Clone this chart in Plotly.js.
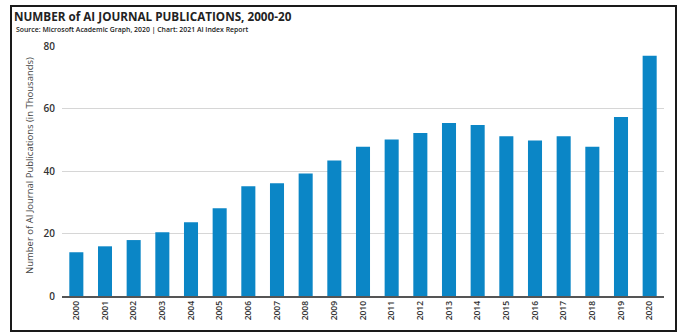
<!DOCTYPE html>
<html>
<head>
<meta charset="utf-8">
<script src="https://cdn.plot.ly/plotly-3.0.1.min.js"></script>
<style>
  html, body { margin: 0; padding: 0; background: #fff; }
  #wrap { position: relative; width: 680px; height: 334px; }
  #chart { position: absolute; left: 0; top: 0; width: 680px; height: 334px; }
  #frame { position: absolute; left: 10px; top: 5px; width: 667px; height: 327px;
           border: 2px solid #1a1a1a; pointer-events: none; box-sizing: border-box; }
</style>
</head>
<body>
<div id="wrap">
  <div id="chart"></div>
  <div id="frame"></div>
</div>
<script>
const years = ["2000","2001","2002","2003","2004","2005","2006","2007","2008","2009","2010",
               "2011","2012","2013","2014","2015","2016","2017","2018","2019","2020"];
const publications = [14.0, 15.9, 17.9, 20.4, 23.6, 28.1, 35.1, 36.1, 39.2, 43.4, 47.8,
                      50.1, 52.2, 55.4, 54.7, 51.1, 49.8, 51.1, 47.8, 57.3, 76.9];
const yTicks = [0, 20, 40, 60, 80];

const titleText = "NUMBER of AI JOURNAL PUBLICATIONS, 2000-20";
const subtitleText = "Source: Microsoft Academic Graph, 2020 | Chart: 2021 AI Index Report";
const yTitleText = "Number of AI Journal Publications (in Thousands)";

const trace = {
  type: "bar",
  x: years,
  y: publications,
  marker: { color: "#0b86c6" },
  hoverinfo: "x+y"
};

const fontFam = "'Open Sans', 'DejaVu Sans', sans-serif";

// plot area: left 62, top 46, width 602, height 250
const L = 62, T = 46, W = 602, H = 250;
const px2x = (px) => (px - L) / W;
const py2y = (py) => 1 - (py - T) / H;

const layout = {
  width: 680,
  height: 334,
  margin: { l: L, r: 680 - L - W, t: T, b: 334 - T - H },
  paper_bgcolor: "#ffffff",
  plot_bgcolor: "#ffffff",
  bargap: 0.51,
  showlegend: false,
  font: { family: fontFam, color: "#333" },
  title: {
    text: titleText,
    x: 14 / 680, xref: "container", xanchor: "left",
    y: 1 - 17 / 334, yref: "container", yanchor: "middle",
    font: { family: fontFam, size: 11.7, color: "#222", weight: 700 }
  },
  annotations: [
    {
      text: subtitleText,
      xref: "paper", yref: "paper",
      x: px2x(14), y: py2y(30),
      xanchor: "left", yanchor: "middle",
      showarrow: false,
      font: { family: fontFam, size: 6.9, color: "#222", weight: 600 }
    },
    {
      text: yTitleText,
      xref: "paper", yref: "paper",
      x: px2x(29), y: py2y(166),
      xanchor: "center", yanchor: "middle",
      textangle: -90,
      showarrow: false,
      font: { family: fontFam, size: 9.5, color: "#444" }
    }
  ],
  xaxis: {
    type: "category",
    tickangle: -90,
    tickfont: { family: fontFam, size: 8.5, color: "#333", weight: 600 },
    showline: true,
    linecolor: "#555",
    linewidth: 1.5,
    ticks: "",
    showgrid: false,
    fixedrange: true
  },
  yaxis: {
    range: [0, 80],
    tickvals: yTicks,
    ticktext: yTicks.map(String),
    tickfont: { family: fontFam, size: 10, color: "#333", weight: 600 },
    showgrid: true,
    gridcolor: "#d6d6d6",
    gridwidth: 1,
    zeroline: false,
    showline: false,
    ticks: "",
    ticklabelstandoff: 6,
    fixedrange: true
  }
};

Plotly.newPlot("chart", [trace], layout, { displayModeBar: false, staticPlot: true });
</script>
</body>
</html>
